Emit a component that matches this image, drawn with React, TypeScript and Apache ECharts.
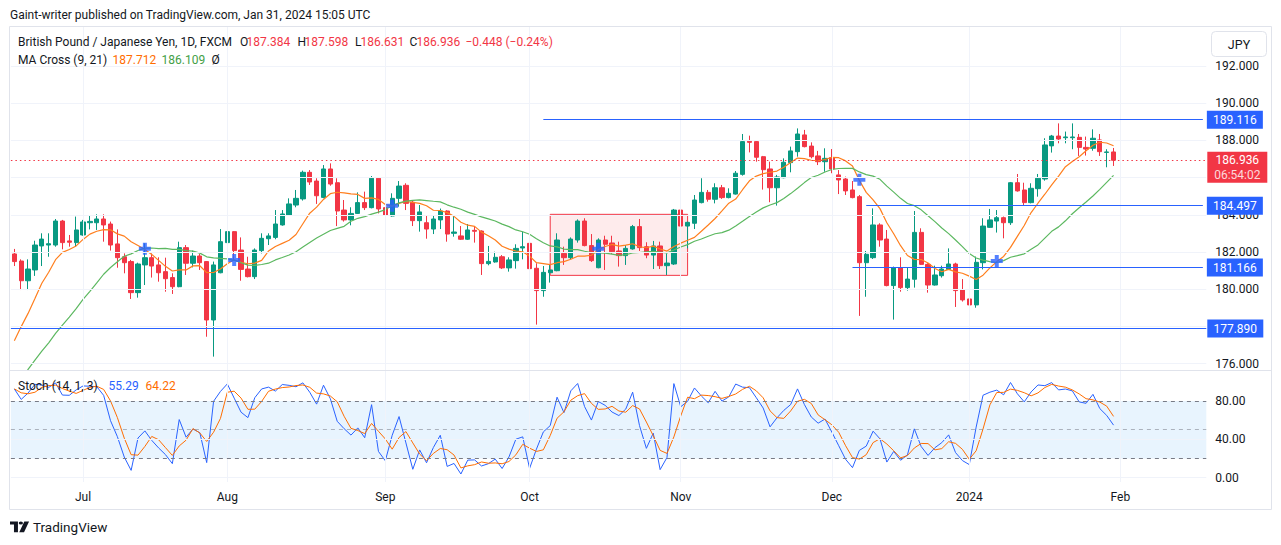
import React, { useEffect, useRef } from "react";
import * as echarts from "echarts";

const FONT = "Roboto, 'Noto Sans', sans-serif";
const UP = "#089981";
const DOWN = "#f23645";
const BLUE = "#2962ff";
const ORANGE = "#ff6d00";
const GREEN = "#43a047";
const TEXT = "#131722";
const GRID = "#f0f3fa";
const BORDER = "#e0e3eb";

const publishedLine = "Gaint-writer published on TradingView.com, Jan 31, 2024 15:05 UTC";
const symbolTitle = "British Pound / Japanese Yen, 1D, FXCM";
const maTitle = "MA Cross (9, 21)";
const maLegend = ["187.712", "186.109", "Ø"];
const stochTitle = "Stoch (14, 1, 3)";
const stochLegend = ["55.29", "64.22"];
const countdown = "06:54:02";
const currency = "JPY";
const brand = "TradingView";

const firstDay = "2023-06-19";
const closedDays = ["2023-12-25", "2024-01-01"];
const slotCount = 174;
const monthNames = ["Jan", "Feb", "Mar", "Apr", "May", "Jun", "Jul", "Aug", "Sep", "Oct", "Nov", "Dec"];

const opens = [
  181.90, 181.52, 180.46, 181.04, 182.33, 182.38, 182.38, 183.67, 182.60, 182.51,
  182.92, 183.58, 183.58, 183.78, 183.51, 182.44, 181.75, 181.49, 179.82, 181.31,
  181.70, 181.31, 180.95, 180.63, 180.14, 182.24, 181.40, 181.79, 181.49, 178.35,
  180.89, 182.51, 183.10, 182.11, 181.09, 180.68, 182.08, 182.72, 182.79, 183.46,
  183.99, 184.53, 184.86, 186.29, 185.82, 184.94, 186.47, 185.73, 184.26, 183.73,
  184.08, 184.66, 184.39, 185.97, 184.39, 183.94, 184.89, 185.59, 184.68, 183.69,
  183.58, 183.24, 183.73, 184.21, 183.01, 182.87, 182.69, 183.17, 183.13, 181.38,
  181.47, 181.75, 181.15, 181.54, 182.22, 182.47, 181.13, 179.93, 180.89, 181.00,
  181.93, 181.70, 182.65, 183.67, 182.35, 181.16, 182.65, 182.49, 182.06, 181.81,
  182.17, 183.37, 182.29, 181.84, 182.33, 181.27, 181.36, 184.26, 183.40, 183.55,
  184.66, 185.21, 184.84, 185.46, 184.93, 185.12, 186.18, 187.96, 187.94, 187.13,
  186.47, 185.46, 186.00, 186.81, 187.40, 188.30, 187.70, 187.17, 186.86, 187.08,
  186.15, 185.93, 185.34, 184.98, 181.43, 181.70, 183.46, 182.70, 180.20, 181.16,
  180.09, 180.54, 183.06, 181.34, 180.23, 180.73, 181.07, 181.36, 179.96, 179.48,
  179.16, 181.43, 183.33, 183.67, 183.85, 183.58, 185.73, 185.34, 184.66, 185.41,
  185.93, 187.71, 188.24, 188.15, 188.15, 188.17, 187.63, 187.58, 188.03, 187.36,
  187.384,
];
const highs = [
  182.17, 181.61, 181.61, 182.61, 183.01, 183.01, 183.78, 183.73, 182.92, 183.91,
  183.73, 183.94, 184.03, 184.03, 183.64, 183.22, 181.93, 181.58, 181.43, 182.47,
  181.93, 181.72, 181.70, 180.86, 182.56, 182.38, 182.08, 181.90, 181.52, 181.49,
  183.24, 183.24, 183.13, 182.79, 181.75, 182.20, 183.01, 183.01, 184.26, 184.26,
  184.89, 185.34, 186.38, 186.41, 185.97, 186.68, 186.77, 185.97, 184.80, 184.41,
  185.21, 185.25, 186.09, 186.02, 184.53, 185.16, 185.82, 185.70, 184.80, 184.53,
  183.94, 183.99, 184.34, 184.25, 183.99, 183.40, 183.51, 183.40, 183.17, 182.33,
  182.02, 181.84, 181.72, 182.42, 183.10, 182.87, 181.40, 181.25, 181.31, 183.01,
  182.29, 182.79, 183.76, 183.82, 182.97, 182.74, 182.88, 182.88, 182.56, 182.38,
  183.46, 183.78, 182.53, 182.60, 182.56, 181.93, 184.32, 184.30, 183.64, 185.07,
  185.97, 185.34, 185.70, 185.61, 185.43, 186.36, 188.35, 188.26, 187.97, 187.17,
  186.86, 186.15, 187.04, 187.67, 188.65, 188.57, 187.90, 187.44, 187.58, 187.54,
  186.41, 186.06, 185.82, 185.07, 182.06, 184.35, 183.55, 183.19, 181.22, 181.72,
  181.18, 184.21, 183.28, 181.40, 181.27, 181.27, 182.20, 181.43, 180.55, 180.81,
  181.76, 183.82, 184.32, 184.26, 183.91, 185.77, 186.20, 185.73, 185.70, 186.20,
  188.12, 188.30, 188.92, 188.48, 188.92, 188.35, 188.21, 188.60, 188.35, 187.53,
  187.598,
];
const lows = [
  181.25, 179.96, 179.96, 180.72, 181.25, 181.75, 182.29, 182.15, 182.29, 182.29,
  182.88, 183.22, 183.19, 182.56, 182.08, 181.16, 180.86, 179.48, 179.55, 180.23,
  180.63, 180.41, 179.87, 179.75, 180.11, 180.77, 181.18, 181.04, 177.45, 176.38,
  180.86, 182.11, 181.58, 180.46, 180.64, 180.55, 181.93, 182.38, 182.69, 183.42,
  183.96, 184.41, 184.77, 185.61, 184.59, 184.89, 185.57, 183.40, 183.64, 183.44,
  184.05, 184.26, 184.35, 184.08, 183.58, 183.91, 184.44, 184.26, 183.40, 183.10,
  182.72, 182.97, 183.24, 182.56, 182.83, 182.65, 182.65, 182.51, 180.77, 181.29,
  181.43, 181.09, 180.95, 181.11, 181.61, 181.07, 178.10, 179.60, 180.36, 180.97,
  181.31, 181.61, 182.51, 182.31, 181.47, 181.13, 181.04, 181.90, 181.22, 181.31,
  182.13, 182.06, 181.67, 181.09, 181.09, 180.77, 181.31, 182.97, 182.20, 183.24,
  184.62, 184.71, 184.62, 184.86, 184.89, 185.09, 186.11, 187.36, 186.86, 185.36,
  184.68, 184.50, 185.97, 186.29, 187.13, 187.63, 187.04, 186.68, 186.32, 186.24,
  185.12, 185.07, 184.89, 178.57, 179.60, 181.63, 182.29, 180.16, 178.37, 179.87,
  179.93, 180.09, 181.31, 179.82, 180.20, 180.63, 181.04, 179.05, 179.34, 178.80,
  179.01, 181.07, 183.30, 183.05, 182.74, 183.46, 185.25, 184.53, 184.62, 184.98,
  185.84, 187.35, 187.85, 187.85, 187.53, 187.17, 187.19, 187.45, 187.17, 186.56,
  186.631,
];
const closes = [
  181.49, 180.46, 181.09, 182.38, 182.70, 182.45, 183.67, 182.51, 182.53, 183.19,
  183.62, 183.65, 183.78, 183.46, 182.38, 181.70, 181.43, 179.82, 181.36, 181.70,
  181.25, 180.89, 180.57, 180.14, 182.24, 181.40, 181.79, 181.43, 178.35, 181.31,
  182.56, 183.10, 182.08, 181.07, 180.68, 182.11, 182.74, 182.87, 183.51, 184.05,
  184.59, 184.89, 186.29, 185.77, 185.03, 186.47, 185.66, 184.21, 183.73, 184.08,
  184.66, 184.39, 185.97, 184.32, 183.99, 184.89, 185.55, 184.62, 183.69, 184.16,
  183.24, 183.78, 184.21, 182.97, 183.08, 182.69, 183.19, 183.12, 181.38, 181.50,
  181.72, 181.15, 181.58, 182.20, 182.29, 181.11, 179.93, 180.91, 181.04, 182.65,
  181.70, 182.70, 183.67, 182.35, 181.54, 182.65, 182.42, 182.02, 181.81, 182.20,
  183.37, 182.24, 181.84, 182.33, 181.27, 181.41, 184.26, 183.40, 183.60, 184.80,
  185.21, 184.84, 185.46, 184.93, 185.16, 186.24, 187.94, 187.90, 187.10, 186.43,
  185.46, 186.04, 186.83, 187.44, 188.35, 187.67, 187.13, 186.86, 187.04, 186.47,
  185.88, 185.29, 184.93, 181.43, 181.88, 183.46, 182.65, 180.20, 181.16, 180.09,
  180.55, 183.06, 181.34, 180.23, 180.77, 181.09, 181.36, 179.93, 179.43, 179.16,
  181.45, 183.40, 183.73, 183.85, 183.58, 185.73, 185.29, 184.66, 185.43, 185.97,
  187.76, 188.24, 188.08, 188.19, 188.19, 187.63, 187.54, 188.12, 187.40, 187.384,
  186.936,
];

// bars before the first visible one (indicator warm-up only)
const preClose = [170.6, 171.0, 171.9, 172.6, 173.0, 173.1, 173.1, 173.5, 173.7, 173.1, 174.6, 174.3, 173.6, 174.7, 175.2, 175.3, 177.1, 177.6, 179.0, 181.1];
const preHigh = [171.3, 171.6, 172.3, 173.1, 173.5, 173.8, 173.7, 174.0, 174.3, 174.0, 175.0, 174.9, 174.4, 175.0, 175.6, 175.9, 177.6, 178.3, 179.4, 181.9];
const preLow = [170.2, 170.5, 171.0, 171.8, 172.4, 172.7, 172.5, 172.9, 173.2, 172.8, 173.4, 173.9, 173.2, 173.5, 174.5, 174.8, 175.2, 176.9, 177.4, 178.9];

const shortLen = 9;
const longLen = 21;
const stochLen = 14;
const stochSmoothD = 3;

const priceGridValues = [176, 178, 180, 182, 184, 186, 188, 190, 192];
// 178.000 and 186.000 sit under the price tags in the reference
const priceTickLabels = [176, 180, 182, 184, 188, 190, 192];
const stochTicks = [0, 40, 80];
const stochGridValues = [0, 40];
const stochLevels = [80, 50, 20];
const stochBand = [20, 80];

const crossIndex = [19, 32, 55, 85, 123, 143];
const crossValue = [182.18, 181.58, 184.49, 182.18, 185.89, 181.52];

const levelValue = [189.116, 184.497, 181.166, 177.89];
const levelStart = [77, 124, 122, -1];
const zoneIndex = [78, 98];
const zoneValue = [184.03, 180.75];

const TV_LOGO = "M0 0H15V28H7.5V8H0Z M16.5 4a4 4 0 1 0 8 0a4 4 0 1 0 -8 0Z M27 0H36L26.5 28H17.5Z";
echarts.graphic.registerShape("tvlogo", echarts.graphic.extendPath(TV_LOGO, {}) as any);

const GRID_LEFT = 10.9;
const GRID_WIDTH = 1195.4;

function buildDates(): string[] {
  const out: string[] = [];
  const d = new Date(firstDay + "T00:00:00Z");
  while (out.length < slotCount) {
    const iso = d.toISOString().slice(0, 10);
    const wd = d.getUTCDay();
    if (wd !== 0 && wd !== 6 && closedDays.indexOf(iso) < 0) out.push(iso);
    d.setUTCDate(d.getUTCDate() + 1);
  }
  return out;
}

function avgAt(src: number[], end: number, len: number) {
  let s = 0;
  for (let k = end - len + 1; k <= end; k++) s += src[k];
  return s / len;
}

const txt = (text: string, x: number, y: number, fill: string, size = 12, extra: any = {}) => ({
  type: "text",
  x,
  y,
  z: 100,
  silent: true,
  style: {
    text,
    fill,
    fontSize: size,
    fontFamily: FONT,
    align: "left",
    verticalAlign: "middle",
    textAlign: "left",
    textVerticalAlign: "middle",
    ...extra,
  },
});

function buildOption(lastPriceY: number | null) {
  const dates = buildDates();
  const monthLabels = dates.map((s, i) => {
    if (i === 0) return "";
    const m = +s.slice(5, 7);
    const pm = +dates[i - 1].slice(5, 7);
    if (m === pm) return "";
    return m === 1 ? s.slice(0, 4) : monthNames[m - 1];
  });
  const monthIdx = monthLabels.map((l, i) => (l ? i : -1)).filter((i) => i >= 0);

  const off = preClose.length;
  const allClose = preClose.concat(closes);
  const allHigh = preHigh.concat(highs);
  const allLow = preLow.concat(lows);

  const maShort = closes.map((_, i) => +avgAt(allClose, i + off, shortLen).toFixed(3));
  const maLong = closes.map((_, i) => +avgAt(allClose, i + off, longLen).toFixed(3));

  const kAll: (number | null)[] = allClose.map((c, j) => {
    if (j < stochLen - 1) return null;
    let hh = -Infinity;
    let ll = Infinity;
    for (let k = j - stochLen + 1; k <= j; k++) {
      hh = Math.max(hh, allHigh[k]);
      ll = Math.min(ll, allLow[k]);
    }
    return (100 * (c - ll)) / (hh - ll);
  });
  const dAll: (number | null)[] = kAll.map((_, j) => {
    if (j < stochLen - 1 + stochSmoothD - 1) return null;
    let s = 0;
    for (let k = j - stochSmoothD + 1; k <= j; k++) s += kAll[k] as number;
    return s / stochSmoothD;
  });
  const stochK = kAll.slice(off).map((v) => (v == null ? null : +v.toFixed(2)));
  const stochD = dAll.slice(off).map((v) => (v == null ? null : +v.toFixed(2)));

  const candleData = closes.map((c, i) => [opens[i], c, lows[i], highs[i]]);
  const last = closes.length - 1;
  const lastClose = closes[last];
  const change = closes[last] - closes[last - 1];
  const changePct = (change / closes[last - 1]) * 100;
  const fmtSigned = (v: number, d: number) => (v < 0 ? "\u2212" : "+") + Math.abs(v).toFixed(d);
  const changeText = `${fmtSigned(change, 3)} (${fmtSigned(changePct, 2)}%)`;

  const blueLabel = (v: number, distance: number) => ({
    show: true,
    position: "end",
    distance,
    formatter: `{v|${v.toFixed(3)}}`,
    backgroundColor: BLUE,
    padding: [2, 4, 2, 4],
    rich: { v: { color: "#ffffff", fontSize: 12, fontFamily: FONT, lineHeight: 14, width: 48, align: "center" } },
  });
  const levelLines: any[] = levelValue.map((v, i) => {
    const lineStyle = { color: BLUE, width: 1, type: "solid" };
    if (levelStart[i] < 0) {
      return { yAxis: v, lineStyle, label: blueLabel(v, 1) };
    }
    return [
      { coord: [dates[levelStart[i]], v], lineStyle, label: blueLabel(v, 4) },
      { coord: [dates[dates.length - 1], v] },
    ];
  });
  const lastLine = {
    yAxis: lastClose,
    lineStyle: { color: DOWN, width: 1, type: [1.5, 3] },
    label: { show: false },
  };

  const graphic: any[] = [
    txt(publishedLine, 10, 15, TEXT, 12),
    {
      type: "rect",
      z: 50,
      silent: true,
      shape: { x: 9.5, y: 26.5, width: 1262, height: 483 },
      style: { fill: "none", stroke: BORDER, lineWidth: 1 },
    },
    {
      type: "line",
      z: 50,
      silent: true,
      shape: { x1: 9.5, y1: 370.5, x2: 1271.5, y2: 370.5 },
      style: { stroke: BORDER, lineWidth: 1 },
    },
    {
      type: "rect",
      z: 50,
      silent: true,
      shape: { x: 1211.5, y: 31.5, width: 55, height: 25, r: 4 },
      style: { fill: "#ffffff", stroke: BORDER, lineWidth: 1 },
    },
    txt(currency, 1239, 44.5, TEXT, 12.5, { align: "center", textAlign: "center" }),
    txt(symbolTitle, 18, 42, TEXT, 12),
    txt("O", 240, 42, TEXT, 12),
    txt(opens[last].toFixed(3), 246.5, 42, DOWN, 12),
    txt("H", 297.5, 42, TEXT, 12),
    txt(highs[last].toFixed(3), 304.5, 42, DOWN, 12),
    txt("L", 355, 42, TEXT, 12),
    txt(lows[last].toFixed(3), 360.5, 42, DOWN, 12),
    txt("C", 409.5, 42, TEXT, 12),
    txt(closes[last].toFixed(3), 416.5, 42, DOWN, 12),
    txt(changeText, 465.5, 42, DOWN, 12),
    txt(maTitle, 18, 59.5, TEXT, 12),
    txt(maLegend[0], 112.5, 59.5, ORANGE, 12),
    txt(maLegend[1], 161.5, 59.5, GREEN, 12),
    txt(maLegend[2], 211.5, 59.5, TEXT, 12),
    txt(stochTitle, 18, 386, TEXT, 12),
    txt(stochLegend[0], 108.5, 386, BLUE, 12),
    txt(stochLegend[1], 145.5, 386, ORANGE, 12),
    {
      type: "tvlogo",
      x: 10,
      y: 521.5,
      scaleX: 0.53,
      scaleY: 0.38,
      z: 100,
      silent: true,
      style: { fill: TEXT },
    },
    txt(brand, 33, 527, TEXT, 13.5),
  ];

  if (lastPriceY != null) {
    const bx = GRID_LEFT + GRID_WIDTH + 1;
    const a: any = txt(lastClose.toFixed(3), bx + 30, lastPriceY, "#ffffff", 12, { align: "center", textAlign: "center" });
    const b: any = txt(countdown, bx + 30, lastPriceY + 14.5, "rgba(255,255,255,0.82)", 12, { align: "center", textAlign: "center" });
    a.z = 121;
    b.z = 121;
    graphic.push(
      {
        type: "rect",
        z: 120,
        silent: true,
        shape: { x: bx, y: lastPriceY - 8.5, width: 60, height: 31 },
        style: { fill: DOWN },
      },
      a,
      b
    );
  }

  return {
    animation: false,
    backgroundColor: "#ffffff",
    textStyle: { fontFamily: FONT },
    grid: [
      { left: GRID_LEFT, top: 27, width: GRID_WIDTH, height: 343 },
      { left: GRID_LEFT, top: 371, width: GRID_WIDTH, height: 111 },
    ],
    xAxis: [
      {
        type: "category",
        gridIndex: 0,
        data: dates,
        boundaryGap: true,
        axisLine: { show: false },
        axisTick: { show: false },
        axisLabel: { show: false },
        splitLine: { show: false },
      },
      {
        type: "category",
        gridIndex: 1,
        data: dates,
        boundaryGap: true,
        axisLine: { show: false },
        axisTick: { show: false },
        splitLine: { show: false },
        axisLabel: {
          show: true,
          interval: (i: number) => monthLabels[i] !== "",
          formatter: (_v: string, i: number) => monthLabels[i],
          color: TEXT,
          fontSize: 12,
          fontFamily: FONT,
          margin: 9,
        },
      },
    ],
    yAxis: [
      {
        type: "value",
        gridIndex: 0,
        position: "right",
        min: 175.661,
        max: 194.102,
        axisLine: { show: false },
        axisTick: { show: false },
        splitLine: { show: false },
        axisLabel: {
          customValues: priceTickLabels,
          formatter: (v: number) => v.toFixed(3),
          color: TEXT,
          fontSize: 12,
          fontFamily: FONT,
          margin: 9,
        },
      },
      {
        type: "value",
        gridIndex: 1,
        position: "right",
        min: -4.7,
        max: 111.5,
        axisLine: { show: false },
        axisTick: { show: false },
        splitLine: { show: false },
        axisLabel: {
          customValues: stochTicks,
          formatter: (v: number) => v.toFixed(2),
          color: TEXT,
          fontSize: 12,
          fontFamily: FONT,
          margin: 9,
        },
      },
    ],
    graphic,
    series: [
      {
        name: "main-grid",
        type: "line",
        xAxisIndex: 0,
        yAxisIndex: 0,
        data: [],
        z: 1,
        silent: true,
        markLine: {
          silent: true,
          symbol: ["none", "none"],
          label: { show: false },
          emphasis: { disabled: true },
          lineStyle: { color: GRID, width: 1, type: "solid" },
          data: [
            ...monthIdx.map((i) => ({ xAxis: dates[i] })),
            ...priceGridValues.map((v) => ({ yAxis: v })),
          ],
        },
        markArea: {
          silent: true,
          emphasis: { disabled: true },
          itemStyle: { color: "rgba(242,54,69,0.1)", borderColor: "#f23645", borderWidth: 1 },
          data: [[{ coord: [dates[zoneIndex[0]], zoneValue[0]] }, { coord: [dates[zoneIndex[1]], zoneValue[1]] }]],
        },
      },
      {
        name: "GBPJPY",
        type: "candlestick",
        xAxisIndex: 0,
        yAxisIndex: 0,
        data: candleData,
        barWidth: 4.8,
        z: 2,
        silent: true,
        itemStyle: { color: UP, color0: DOWN, borderColor: UP, borderColor0: DOWN, borderWidth: 1 },
        markLine: {
          silent: true,
          symbol: ["none", "none"],
          emphasis: { disabled: true },
          data: [...levelLines, lastLine],
        },
      },
      {
        name: "MA 9",
        type: "line",
        xAxisIndex: 0,
        yAxisIndex: 0,
        data: maShort,
        showSymbol: false,
        silent: true,
        z: 3,
        lineStyle: { color: "#ff7f1e", width: 1.2 },
      },
      {
        name: "MA 21",
        type: "line",
        xAxisIndex: 0,
        yAxisIndex: 0,
        data: maLong,
        showSymbol: false,
        silent: true,
        z: 3,
        lineStyle: { color: "#5cb860", width: 1.2 },
      },
      {
        name: "MA cross",
        type: "scatter",
        xAxisIndex: 0,
        yAxisIndex: 0,
        data: crossIndex.map((idx, i) => [dates[idx], crossValue[i]]),
        symbol: "path://M4,0H8V4H12V8H8V12H4V8H0V4H4Z",
        symbolSize: 12,
        silent: true,
        z: 4,
        itemStyle: { color: BLUE },
      },
      {
        name: "stoch-grid",
        type: "line",
        xAxisIndex: 1,
        yAxisIndex: 1,
        data: [],
        z: 1,
        silent: true,
        markArea: {
          silent: true,
          emphasis: { disabled: true },
          itemStyle: { color: "rgba(33,150,243,0.1)" },
          data: [[{ yAxis: stochBand[0] }, { yAxis: stochBand[1] }]],
        },
        markLine: {
          silent: true,
          symbol: ["none", "none"],
          label: { show: false },
          emphasis: { disabled: true },
          lineStyle: { color: GRID, width: 1, type: "solid" },
          data: [
            ...monthIdx.map((i) => ({ xAxis: dates[i] })),
            ...stochGridValues.map((v) => ({ yAxis: v })),
          ],
        },
      },
      {
        name: "stoch-levels",
        type: "line",
        xAxisIndex: 1,
        yAxisIndex: 1,
        data: [],
        z: 2,
        silent: true,
        markLine: {
          silent: true,
          symbol: ["none", "none"],
          label: { show: false },
          emphasis: { disabled: true },
          lineStyle: { color: "#787b86", width: 1, type: [4, 4] },
          data: stochLevels.map((v) =>
            v === 50
              ? { yAxis: v, lineStyle: { color: "rgba(120,123,134,0.55)", width: 1, type: [4, 4] } }
              : { yAxis: v }
          ),
        },
      },
      {
        name: "%K",
        type: "line",
        xAxisIndex: 1,
        yAxisIndex: 1,
        data: stochK,
        showSymbol: false,
        silent: true,
        z: 3,
        lineStyle: { color: BLUE, width: 1 },
      },
      {
        name: "%D",
        type: "line",
        xAxisIndex: 1,
        yAxisIndex: 1,
        data: stochD,
        showSymbol: false,
        silent: true,
        z: 3,
        lineStyle: { color: ORANGE, width: 1 },
      },
    ],
  };
}

export default function App() {
  const ref = useRef<HTMLDivElement>(null);
  useEffect(() => {
    if (!ref.current) return;
    const chart = echarts.init(ref.current, undefined, { renderer: "svg" });
    chart.setOption(buildOption(null) as any);
    let y: number | null = null;
    try {
      const p = chart.convertToPixel({ yAxisIndex: 0 } as any, closes[closes.length - 1]) as any;
      y = typeof p === "number" ? p : Array.isArray(p) ? p[1] : null;
    } catch (e) {
      y = null;
    }
    if (y != null && isFinite(y)) {
      chart.setOption(buildOption(y) as any, { notMerge: true });
    }
    return () => chart.dispose();
  }, []);
  return (
    <div
      ref={ref}
      style={{ position: "fixed", left: 0, top: 0, width: 1281, height: 545, background: "#ffffff" }}
    />
  );
}
